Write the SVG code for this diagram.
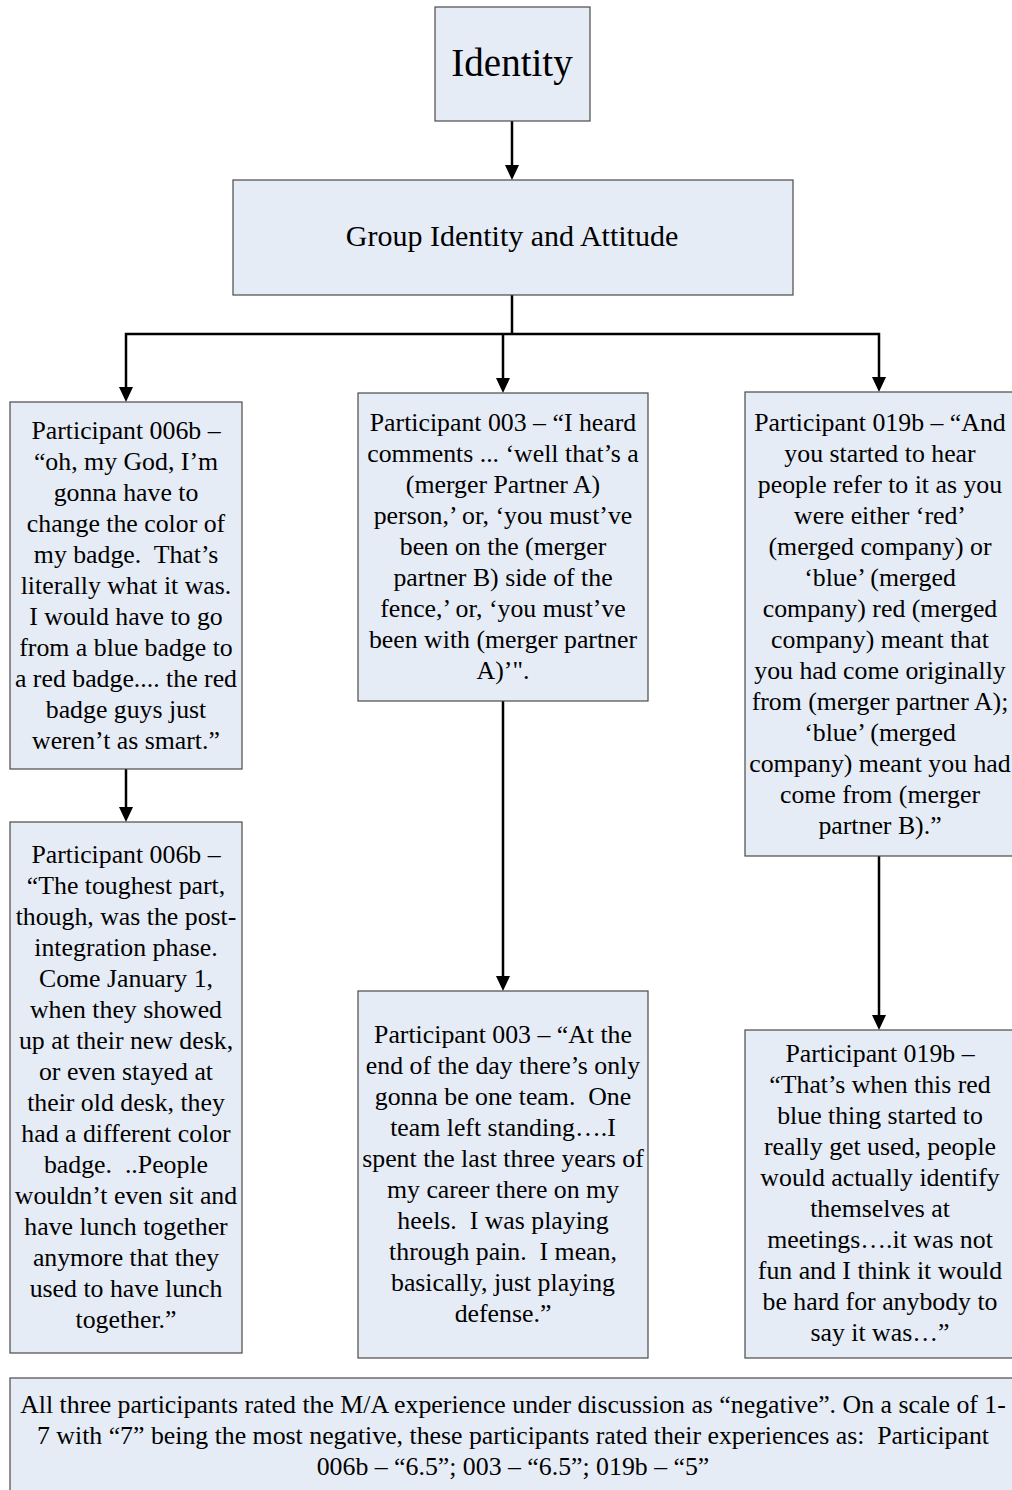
<svg xmlns="http://www.w3.org/2000/svg" width="1012" height="1490" viewBox="0 0 1012 1490">
<defs>
<style>
.box{fill:#e6ecf6;stroke:#4a4a4a;stroke-width:1.2}
.t{font-family:"Liberation Serif","Times New Roman",serif;font-size:25.8px;fill:#000;text-anchor:middle;white-space:pre}
.c{stroke:#000;stroke-width:2.5;fill:none}
.h{fill:#000}
</style>
</defs>
<rect width="1012" height="1490" fill="#fff"/>

<g id="connectors">
<line class="c" x1="512" y1="121" x2="512" y2="166"/>
<path class="h" d="M505,165 L519,165 L512,180 Z"/>
<line class="c" x1="512" y1="295" x2="512" y2="334"/>
<polyline class="c" points="126,388 126,334 879,334 879,378"/>
<path class="h" d="M119,387 L133,387 L126,402 Z"/>
<line class="c" x1="503" y1="334" x2="503" y2="379"/>
<path class="h" d="M496,378 L510,378 L503,393 Z"/>
<path class="h" d="M872,377 L886,377 L879,392 Z"/>
<line class="c" x1="126" y1="769" x2="126" y2="808"/>
<path class="h" d="M119,807 L133,807 L126,822 Z"/>
<line class="c" x1="503" y1="701" x2="503" y2="977"/>
<path class="h" d="M496,976 L510,976 L503,991 Z"/>
<line class="c" x1="879" y1="856" x2="879" y2="1016"/>
<path class="h" d="M872,1015 L886,1015 L879,1030 Z"/>
</g>

<g id="identity">
<rect class="box" x="435" y="7" width="155" height="114"/>
<text class="t" x="512" y="76" style="font-size:39px">Identity</text>
</g>

<g id="group">
<rect class="box" x="233" y="180" width="560" height="115"/>
<text class="t" x="512" y="246" style="font-size:30px">Group Identity and Attitude</text>
</g>

<g id="p006b-1">
<rect class="box" x="10" y="402" width="232" height="367"/>
<text class="t"><tspan x="126" y="439">Participant 006b –</tspan><tspan x="126" y="470">“oh, my God, I’m</tspan><tspan x="126" y="501">gonna have to</tspan><tspan x="126" y="532">change the color of</tspan><tspan x="126" y="563">my badge.  That’s</tspan><tspan x="126" y="594">literally what it was.</tspan><tspan x="126" y="625">I would have to go</tspan><tspan x="126" y="656">from a blue badge to</tspan><tspan x="126" y="687">a red badge.... the red</tspan><tspan x="126" y="718">badge guys just</tspan><tspan x="126" y="749">weren’t as smart.”</tspan></text>
</g>

<g id="p006b-2">
<rect class="box" x="10" y="822" width="232" height="531"/>
<text class="t"><tspan x="126" y="863">Participant 006b –</tspan><tspan x="126" y="894">“The toughest part,</tspan><tspan x="126" y="925">though, was the post-</tspan><tspan x="126" y="956">integration phase.</tspan><tspan x="126" y="987">Come January 1,</tspan><tspan x="126" y="1018">when they showed</tspan><tspan x="126" y="1049">up at their new desk,</tspan><tspan x="126" y="1080">or even stayed at</tspan><tspan x="126" y="1111">their old desk, they</tspan><tspan x="126" y="1142">had a different color</tspan><tspan x="126" y="1173">badge.  ..People</tspan><tspan x="126" y="1204">wouldn’t even sit and</tspan><tspan x="126" y="1235">have lunch together</tspan><tspan x="126" y="1266">anymore that they</tspan><tspan x="126" y="1297">used to have lunch</tspan><tspan x="126" y="1328">together.”</tspan></text>
</g>

<g id="p003-1">
<rect class="box" x="358" y="393" width="290" height="308"/>
<text class="t"><tspan x="503" y="431">Participant 003 – “I heard</tspan><tspan x="503" y="462">comments ... ‘well that’s a</tspan><tspan x="503" y="493">(merger Partner A)</tspan><tspan x="503" y="524">person,’ or, ‘you must’ve</tspan><tspan x="503" y="555">been on the (merger</tspan><tspan x="503" y="586">partner B) side of the</tspan><tspan x="503" y="617">fence,’ or, ‘you must’ve</tspan><tspan x="503" y="648">been with (merger partner</tspan><tspan x="503" y="679">A)’".</tspan></text>
</g>

<g id="p003-2">
<rect class="box" x="358" y="991" width="290" height="367"/>
<text class="t"><tspan x="503" y="1043">Participant 003 – “At the</tspan><tspan x="503" y="1074">end of the day there’s only</tspan><tspan x="503" y="1105">gonna be one team.  One</tspan><tspan x="503" y="1136">team left standing….I</tspan><tspan x="503" y="1167">spent the last three years of</tspan><tspan x="503" y="1198">my career there on my</tspan><tspan x="503" y="1229">heels.  I was playing</tspan><tspan x="503" y="1260">through pain.  I mean,</tspan><tspan x="503" y="1291">basically, just playing</tspan><tspan x="503" y="1322">defense.”</tspan></text>
</g>

<g id="p019b-1">
<rect class="box" x="745" y="392" width="275" height="464"/>
<text class="t"><tspan x="880" y="431">Participant 019b – “And</tspan><tspan x="880" y="462">you started to hear</tspan><tspan x="880" y="493">people refer to it as you</tspan><tspan x="880" y="524">were either ‘red’</tspan><tspan x="880" y="555">(merged company) or</tspan><tspan x="880" y="586">‘blue’ (merged</tspan><tspan x="880" y="617">company) red (merged</tspan><tspan x="880" y="648">company) meant that</tspan><tspan x="880" y="679">you had come originally</tspan><tspan x="880" y="710">from (merger partner A);</tspan><tspan x="880" y="741">‘blue’ (merged</tspan><tspan x="880" y="772">company) meant you had</tspan><tspan x="880" y="803">come from (merger</tspan><tspan x="880" y="834">partner B).”</tspan></text>
</g>

<g id="p019b-2">
<rect class="box" x="745" y="1030" width="275" height="328"/>
<text class="t"><tspan x="880" y="1062">Participant 019b –</tspan><tspan x="880" y="1093">“That’s when this red</tspan><tspan x="880" y="1124">blue thing started to</tspan><tspan x="880" y="1155">really get used, people</tspan><tspan x="880" y="1186">would actually identify</tspan><tspan x="880" y="1217">themselves at</tspan><tspan x="880" y="1248">meetings….it was not</tspan><tspan x="880" y="1279">fun and I think it would</tspan><tspan x="880" y="1310">be hard for anybody to</tspan><tspan x="880" y="1341">say it was…”</tspan></text>
</g>

<g id="summary">
<rect class="box" x="10" y="1378" width="1012" height="120"/>
<text class="t"><tspan x="513" y="1413">All three participants rated the M/A experience under discussion as “negative”. On a scale of 1-</tspan><tspan x="513" y="1444">7 with “7” being the most negative, these participants rated their experiences as:  Participant</tspan><tspan x="513" y="1475">006b – “6.5”; 003 – “6.5”; 019b – “5”</tspan></text>
</g>
</svg>
